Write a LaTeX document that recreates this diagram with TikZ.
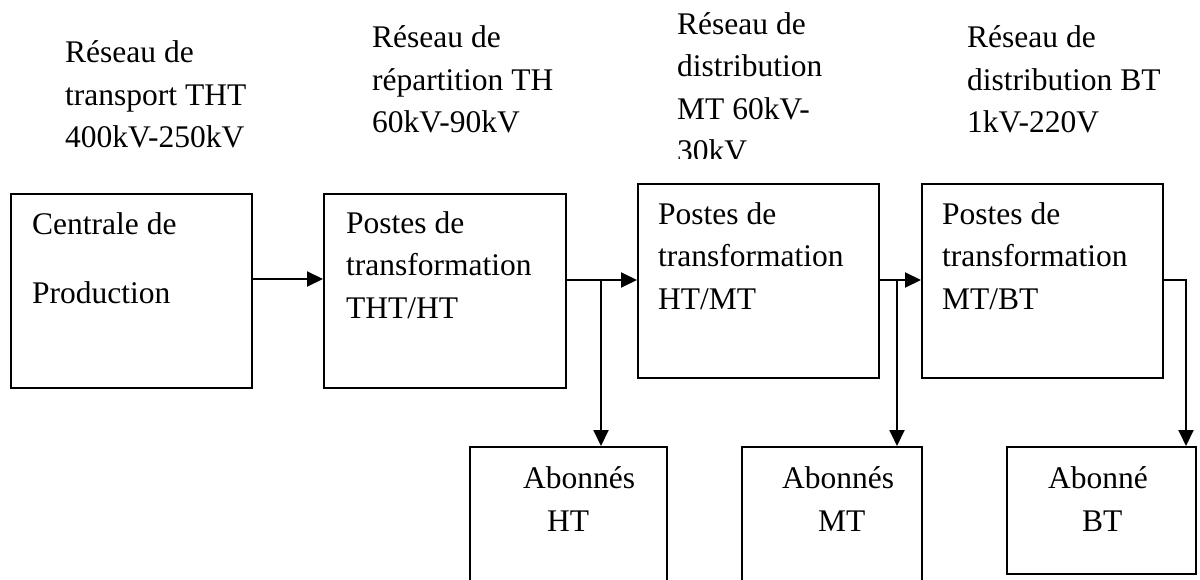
\documentclass[tikz,border=0pt]{standalone}
\usepackage{fontspec}
\setmainfont{Liberation Serif}
\usetikzlibrary{arrows.meta,fit}
\begin{document}
\begin{tikzpicture}[x=1pt,y=-1pt,
  box/.style={draw,line width=2pt,inner sep=0pt},
  txt/.style={anchor=base west,inner sep=0pt,align=left,font=\fontsize{31.5}{42.5}\selectfont},
  arr/.style={line width=2pt,-{Triangle[length=16pt,width=15pt]}}]
\useasboundingbox[fill=white] (0,0) rectangle (1200,580);
% boxes
\node[box,fit={(11,194) (252,388)}] (b1) {};
\node[box,fit={(324,194) (566,388)}] (b2) {};
\node[box,fit={(638,184) (879,378)}] (b3) {};
\node[box,fit={(922,184) (1163,378)}] (b4) {};
\node[box,fit={(470,447) (667,600)}] (a1) {};
\node[box,fit={(742,447) (922,600)}] (a2) {};
\node[box,fit={(1007,447) (1196,574)}] (a3) {};
% top labels (base anchor = baseline of last line)
\node[txt] (l1) at (65,148) {Réseau de\\transport THT\\400kV-250kV};
\node[txt] (l2) at (372,133) {Réseau de\\répartition TH\\60kV-90kV};
\begin{scope}
\clip (600,0) rectangle (900,159);
\node[txt] (l3) at (677,162) {Réseau de\\distribution\\MT 60kV-\\30kV};
\end{scope}
\node[txt] (l4) at (967,133) {Réseau de\\distribution BT\\1kV-220V};
% box texts
\node[txt] (t1) at (32,304) {Centrale de\\[27.5pt]Production};
\node[txt] (t2) at (346,318) {Postes de\\transformation\\THT/HT};
\node[txt] (t3) at (658,309) {Postes de\\transformation\\HT/MT};
\node[txt] (t4) at (942,309) {Postes de\\transformation\\MT/BT};
\node[txt] (s1a) at (523,488) {Abonnés};
\node[txt] (s1b) at (547,531) {HT};
\node[txt] (s2a) at (782,488) {Abonnés};
\node[txt] (s2b) at (818,531) {MT};
\node[txt] (s3a) at (1048,488) {Abonné};
\node[txt] (s3b) at (1082,531) {BT};
% connectors
\coordinate (j0) at (280,279);
\coordinate (j1) at (601,280);
\coordinate (j2) at (897,280);
\coordinate (j3) at (1186,280);
\draw[arr] (b1.east |- j0) -- (b2.west |- j0);
\draw[arr] (b2.east |- j1) -- (b3.west |- j1);
\draw[arr] (j1) -- (a1.north -| j1);
\draw[arr] (b3.east |- j2) -- (b4.west |- j2);
\draw[arr] (j2) -- (a2.north -| j2);
\draw[arr] (b4.east |- j3) -- (j3) -- (a3.north -| j3);
\end{tikzpicture}
\end{document}
